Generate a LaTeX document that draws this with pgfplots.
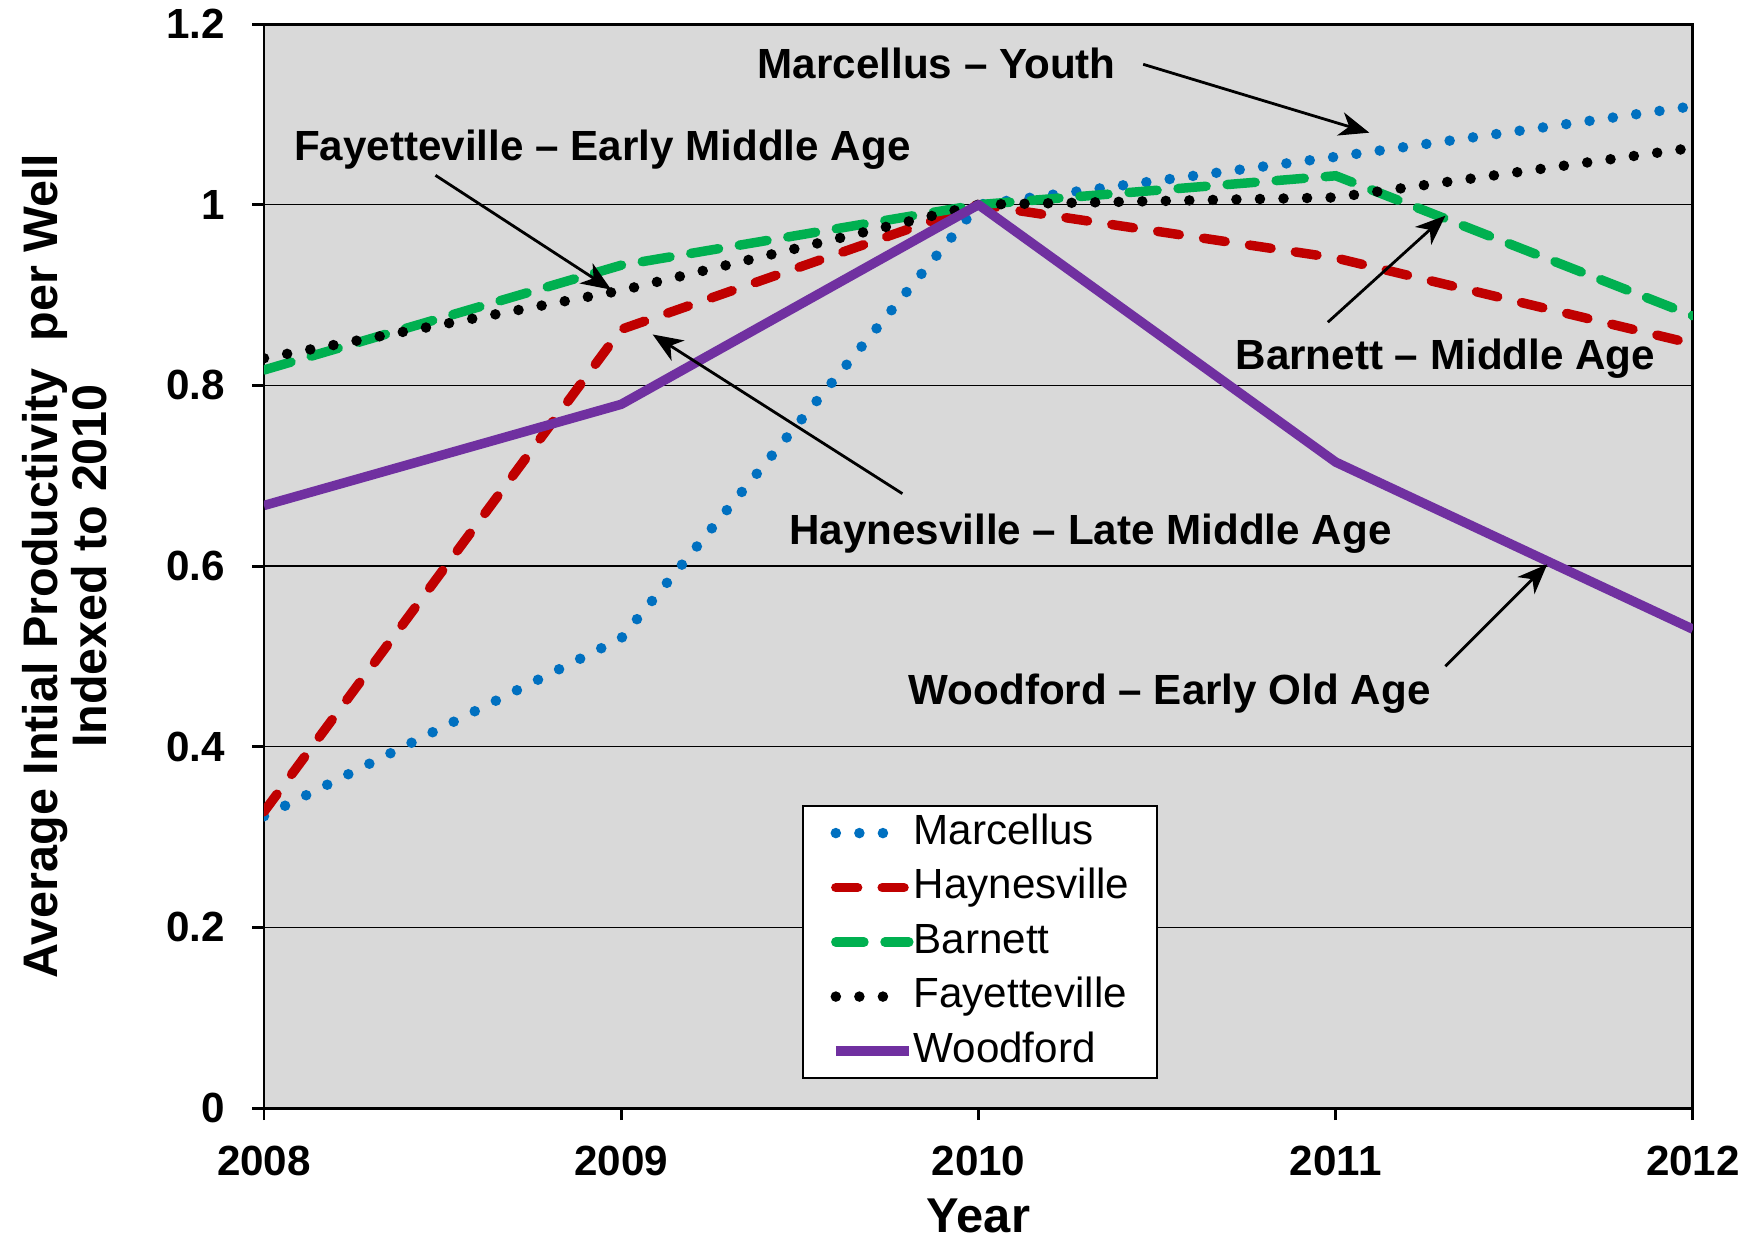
\documentclass[border=0pt]{standalone}
\usepackage{fontspec}
\setmainfont{Liberation Sans}
\usepackage{pgfplots}
\pgfplotsset{compat=1.18}
\usetikzlibrary{arrows.meta}
\definecolor{bg}{RGB}{217,217,217}
\definecolor{mblue}{RGB}{0,112,192}
\definecolor{hred}{RGB}{192,0,0}
\definecolor{bgreen}{RGB}{0,176,80}
\definecolor{wpurple}{RGB}{112,48,160}
\pgfplotsset{dotleg/.style={legend image code/.code={\draw[##1] (0.4mm,0mm) -- (6mm,0mm);}}}
\begin{document}
\begin{tikzpicture}
\begin{axis}[name=ax, at={(0,0)}, anchor=south west,
  scale only axis, width=142.9mm, height=108.4mm,
  xmin=2008, xmax=2012, ymin=0, ymax=1.2,
  xtick={2008,2009,2010,2011,2012},
  xticklabels={2008,2009,2010,2011,2012},
  ytick={0,0.2,0.4,0.6,0.8,1,1.2},
  yticklabels={0,0.2,0.4,0.6,0.8,1,1.2},
  xtick pos=bottom, ytick pos=left,
  tick align=outside, major tick length=1.2mm,
  tick style={black, line width=0.85pt},
  axis line style={black, line width=0.85pt},
  axis background/.style={fill=bg},
  ymajorgrids, grid style={black, line width=0.45pt},
  xticklabel style={font=\fontsize{12}{12}\selectfont\bfseries, yshift=-1.35mm},
  yticklabel style={font=\fontsize{12}{12}\selectfont\bfseries, xshift=-1.45mm},
  xlabel={Year},
  ylabel={Average Intial Productivity\ \ per Well\\Indexed to 2010},
  every axis x label/.style={at={(rel axis cs:0.5,0)}, yshift=-12.45mm, anchor=base,
     font=\fontsize{13.9}{13.9}\selectfont\bfseries},
  every axis y label/.style={at={(rel axis cs:0,0.5)}, xshift=-19.9mm, rotate=90, anchor=center,
     align=center, font=\fontsize{13.8}{12.8}\selectfont\bfseries},
  legend style={at={(axis cs:2009.506,0.3354)}, anchor=north west, draw=black, line width=0.6pt,
     fill=white, font=\fontsize{12}{12}\selectfont, inner xsep=2.75mm, inner ysep=0.6mm,
     row sep=1.25mm,
     nodes={inner sep=0pt, text height=3.2mm, text depth=1mm}},
  legend cell align=left,
  legend image code/.code={\draw[#1] (0.4mm,0mm) -- (7.7mm,0mm);},
]
\addplot[mblue, line width=3pt, line cap=round, dash pattern=on 0pt off 6.7pt, dotleg]
  coordinates {(2008,0.323) (2009,0.520) (2010,1.000) (2011,1.053) (2012,1.109)};
\addlegendentry{Marcellus}
\addplot[hred, line width=2.7pt, line cap=round, dash pattern=on 6.2pt off 7pt]
  coordinates {(2008,0.328) (2009,0.862) (2010,1.000) (2011,0.941) (2012,0.846)};
\addlegendentry{Haynesville}
\addplot[bgreen, line width=2.7pt, line cap=round, dash pattern=on 8pt off 6pt]
  coordinates {(2008,0.817) (2009,0.933) (2010,1.000) (2011,1.032) (2012,0.877)};
\addlegendentry{Barnett}
\addplot[black, line width=3pt, line cap=round, dash pattern=on 0pt off 6.7pt, dotleg]
  coordinates {(2008,0.830) (2009,0.905) (2010,1.000) (2011,1.008) (2012,1.063)};
\addlegendentry{Fayetteville}
\addplot[wpurple, line width=2.7pt, line join=round]
  coordinates {(2008,0.667) (2009,0.779) (2010,1.000) (2011,0.715) (2012,0.530)};
\addlegendentry{Woodford\hspace{0.4mm}}

\begin{scope}[every node/.style={font=\fontsize{12}{12}\selectfont\bfseries, anchor=base, inner sep=0pt}]
\node at (axis cs:2009.883,1.1392) {Marcellus -- Youth};
\node at (axis cs:2008.947,1.0487) {Fayetteville -- Early Middle Age};
\node at (axis cs:2010.313,0.6242) {Haynesville -- Late Middle Age};
\node at (axis cs:2011.307,0.8178) {Barnett -- Middle Age};
\node at (axis cs:2010.535,0.4468) {Woodford -- Early Old Age};
\end{scope}
\begin{scope}[line width=0.8pt, -{Stealth[length=3mm,width=2.4mm,inset=0.9mm]}]
\draw (axis cs:2010.461,1.1554) -- (axis cs:2011.094,1.0797);
\draw (axis cs:2008.480,1.0325) -- (axis cs:2008.972,0.9059);
\draw (axis cs:2009.787,0.6801) -- (axis cs:2009.088,0.8563);
\draw (axis cs:2010.978,0.8699) -- (axis cs:2011.307,0.9878);
\draw (axis cs:2011.307,0.4890) -- (axis cs:2011.592,0.6019);
\end{scope}
\end{axis}
\pgfresetboundingbox
\path (ax.south west) ++(-26.4mm,-13.2mm) rectangle ++(175.7mm,124mm);
\end{tikzpicture}
\end{document}
